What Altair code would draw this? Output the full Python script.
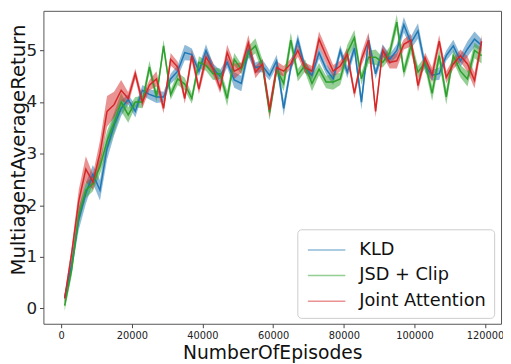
import altair as alt
import pandas as pd

episodes = list(range(1000, 121000, 2000))

series_names = ["KLD", "JSD + Clip", "Joint Attention"]
series_colors = ["#1f77b4", "#2ca02c", "#d62728"]

kld = [0.2, 0.85, 1.72, 2.23, 2.6, 2.29, 3.1, 3.55, 3.88, 4.05,
       3.82, 4.23, 4.15, 4.1, 4.1, 4.45, 4.6, 4.96, 4.92, 4.6,
       5.0, 4.65, 4.5, 4.77, 4.43, 4.36, 5.0, 4.67, 4.7, 4.52,
       4.8, 3.88, 4.67, 5.2, 4.67, 4.52, 4.96, 4.64, 4.45, 5.0,
       4.58, 5.05, 4.0, 5.2, 4.55, 5.0, 4.83, 5.0, 5.5, 5.15,
       5.38, 4.7, 4.52, 4.55, 4.9, 5.09, 4.8, 5.03, 5.22, 5.1]

jsd = [0.05, 0.75, 1.8, 2.29, 2.42, 2.75, 3.24, 3.6, 4.0, 3.75,
       4.0, 4.0, 4.68, 4.1, 5.09, 4.14, 4.45, 4.35, 4.07, 4.77,
       4.71, 4.55, 4.55, 4.07, 4.83, 4.64, 4.96, 5.09, 4.7, 3.8,
       4.64, 4.36, 5.2, 4.52, 4.71, 4.36, 4.64, 4.39, 4.39, 4.45,
       4.96, 5.25, 4.45, 4.87, 4.87, 4.77, 4.96, 5.55, 4.58, 5.09,
       4.58, 4.77, 4.17, 4.9, 4.1, 4.9, 4.6, 4.45, 5.0, 4.9]

joint = [0.19, 1.07, 2.08, 2.7, 2.45, 3.0, 3.82, 3.95, 4.23, 4.07,
         4.55, 4.0, 4.33, 4.45, 3.88, 4.83, 4.68, 4.07, 4.9, 4.25,
         4.87, 4.65, 4.27, 4.96, 4.6, 4.67, 5.15, 4.58, 4.74, 3.85,
         4.67, 4.6, 4.74, 5.0, 4.67, 4.6, 5.22, 4.9, 4.6, 4.7,
         4.93, 4.17, 4.83, 5.2, 3.82, 5.0, 4.77, 4.8, 5.12, 5.2,
         4.32, 4.86, 4.52, 5.18, 4.48, 4.74, 4.9, 4.74, 4.42, 5.18]

kld_spread = [0.08, 0.12, 0.2, 0.2, 0.18, 0.2, 0.22, 0.2, 0.15, 0.1,
              0.12, 0.1, 0.1, 0.12, 0.1, 0.1, 0.12, 0.15, 0.12, 0.1,
              0.12, 0.1, 0.12, 0.1, 0.15, 0.15, 0.12, 0.1, 0.12, 0.1,
              0.12, 0.15, 0.1, 0.12, 0.1, 0.1, 0.12, 0.1, 0.12, 0.1,
              0.12, 0.12, 0.15, 0.12, 0.1, 0.12, 0.1, 0.12, 0.15, 0.12,
              0.15, 0.12, 0.1, 0.12, 0.1, 0.12, 0.12, 0.15, 0.15, 0.12]

jsd_spread = [0.1, 0.12, 0.15, 0.15, 0.15, 0.15, 0.2, 0.2, 0.18, 0.15,
              0.1, 0.12, 0.12, 0.1, 0.12, 0.1, 0.12, 0.12, 0.1, 0.12,
              0.1, 0.12, 0.1, 0.15, 0.12, 0.1, 0.12, 0.15, 0.12, 0.15,
              0.12, 0.15, 0.15, 0.12, 0.12, 0.15, 0.12, 0.12, 0.15, 0.12,
              0.15, 0.15, 0.12, 0.12, 0.15, 0.1, 0.12, 0.15, 0.12, 0.15,
              0.12, 0.12, 0.15, 0.15, 0.15, 0.12, 0.12, 0.15, 0.15, 0.15]

joint_spread = [0.08, 0.12, 0.22, 0.25, 0.15, 0.25, 0.3, 0.25, 0.2, 0.12,
                0.1, 0.12, 0.1, 0.15, 0.1, 0.12, 0.1, 0.1, 0.12, 0.1,
                0.15, 0.12, 0.1, 0.15, 0.15, 0.1, 0.15, 0.12, 0.1, 0.15,
                0.12, 0.1, 0.1, 0.12, 0.1, 0.1, 0.15, 0.15, 0.12, 0.1,
                0.12, 0.1, 0.12, 0.15, 0.12, 0.1, 0.12, 0.15, 0.1, 0.12,
                0.12, 0.1, 0.15, 0.12, 0.12, 0.1, 0.12, 0.15, 0.15, 0.12]

rows = []
for name, vals, spr in [("KLD", kld, kld_spread),
                        ("JSD + Clip", jsd, jsd_spread),
                        ("Joint Attention", joint, joint_spread)]:
    for e, v, s in zip(episodes, vals, spr):
        rows.append({"episodes": e, "series": name, "value": v,
                     "lo": v - s, "hi": v + s})
df = pd.DataFrame(rows)

color_scale = alt.Scale(domain=series_names, range=series_colors)
legend = alt.Legend(title=None, orient="none", legendX=258, legendY=222,
                    symbolType="M-0.84,0L2.27,0", symbolSize=600, symbolStrokeWidth=1.5,
                    symbolFillColor="transparent",
                    labelFontSize=18, labelOffset=29, rowPadding=4,
                    padding=8, strokeColor="#cccccc", fillColor="white",
                    cornerRadius=4, labelColor="#111111", labelFont="DejaVu Sans")

x_enc = alt.X("episodes:Q",
              scale=alt.Scale(domain=[-5000, 124500], nice=False, zero=False),
              axis=alt.Axis(title="NumberOfEpisodes",
                            values=[0, 20000, 40000, 60000, 80000, 100000, 120000],
                            format="d", labelFontSize=10, titleFontSize=19, grid=False,
                            tickSize=4, labelPadding=3, titlePadding=3, domain=False))
y_scale = alt.Scale(domain=[-0.3, 5.77], nice=False, zero=False)

band = alt.Chart(df).mark_area(opacity=0.5).encode(
    x=x_enc,
    y=alt.Y("lo:Q", scale=y_scale,
            axis=alt.Axis(title="MultiagentAverageReturn", values=[0, 1, 2, 3, 4, 5],
                          labelFontSize=17, titleFontSize=20, grid=False, tickSize=4,
                          labelPadding=3, domain=False,
                          titleX=-25, titleY=141, titleAlign="center",
                          titleBaseline="middle", titleAngle=270)),
    y2="hi:Q",
    color=alt.Color("series:N", scale=color_scale, legend=legend),
    detail="series:N",
)

lines = alt.Chart(df).mark_line(strokeWidth=1.5).encode(
    x="episodes:Q",
    y="value:Q",
    color=alt.Color("series:N", scale=color_scale, legend=legend),
)

chart = alt.layer(band, lines).properties(
    width=465, height=318,
    autosize=alt.AutoSizeParams(type="none"),
    padding={"left": 36, "top": 0, "right": 2, "bottom": 38},
).configure_view(
    stroke="#555555", strokeWidth=1
).configure_axis(
    labelFont="DejaVu Sans", titleFont="DejaVu Sans", labelColor="#222222",
    titleColor="#111111", tickColor="#444444", titleFontWeight="normal"
)

chart.save("out.html", embed_options={"renderer": "svg", "actions": False})
